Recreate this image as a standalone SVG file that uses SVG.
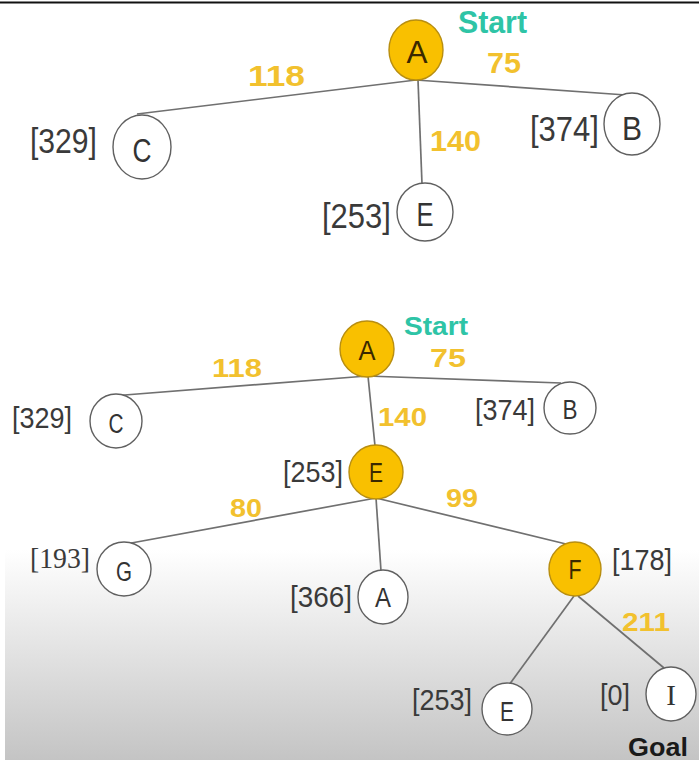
<svg xmlns="http://www.w3.org/2000/svg" width="699" height="764" viewBox="0 0 699 764">
  <defs>
    <linearGradient id="floor" x1="0" y1="0" x2="0" y2="1">
      <stop offset="0" stop-color="#ffffff"/>
      <stop offset="1" stop-color="#c4c4c4"/>
    </linearGradient>
  </defs>
  <style>
    .node { fill: #ffffff; stroke: #606060; stroke-width: 1.4; }
    .hot { fill: #f9c000; stroke: #b88e10; stroke-width: 1.4; }
    .edge { stroke: #707070; stroke-width: 1.7; fill: none; }
    text { font-family: "Liberation Sans", Arial, sans-serif; }
    .lbl { fill: #3a3a3a; }
    .name { fill: #333333; text-anchor: middle; }
    .serif { font-family: "Liberation Serif", "Times New Roman", serif; }
    .hotname { fill: #3a2800; }
    .cost { font-weight: bold; fill: #f2c12e; }
    .start { font-weight: bold; fill: #2ec4a6; }
    .goal { font-weight: bold; fill: #1a1a1a; }
  </style>

  <!-- page background -->
  <rect x="0" y="0" width="699" height="764" fill="#ffffff"/>
  <rect x="5" y="550" width="694" height="210" fill="url(#floor)"/>
  <line x1="0" y1="2.5" x2="699" y2="2.5" stroke="#111111" stroke-width="2"/>

  <!-- ===== first expansion ===== -->
  <g id="edges-top">
    <line class="edge" x1="416" y1="80" x2="137" y2="114"/>
    <line class="edge" x1="416" y1="80" x2="626" y2="95"/>
    <line class="edge" x1="418" y1="80" x2="422" y2="184"/>
  </g>
  <g id="top-A">
    <ellipse class="hot" cx="416" cy="50" rx="27" ry="30"/>
    <text class="name hotname" x="417" y="63" font-size="32" textLength="21" lengthAdjust="spacingAndGlyphs">A</text>
    <text class="start" x="458" y="33" font-size="31" textLength="69" lengthAdjust="spacingAndGlyphs">Start</text>
  </g>
  <g id="top-C">
    <ellipse class="node" cx="142" cy="147" rx="29" ry="32"/>
    <text class="name" x="142" y="162" font-size="33" textLength="19" lengthAdjust="spacingAndGlyphs">C</text>
    <text class="lbl" x="30" y="153" font-size="35" textLength="67" lengthAdjust="spacingAndGlyphs">[329]</text>
  </g>
  <g id="top-E">
    <ellipse class="node" cx="425" cy="212" rx="28" ry="29"/>
    <text class="name" x="425" y="226" font-size="33" textLength="17" lengthAdjust="spacingAndGlyphs">E</text>
    <text class="lbl" x="322" y="228" font-size="35" textLength="69" lengthAdjust="spacingAndGlyphs">[253]</text>
  </g>
  <g id="top-B">
    <ellipse class="node" cx="632" cy="124" rx="28" ry="31"/>
    <text class="name" x="632" y="140" font-size="33" textLength="20" lengthAdjust="spacingAndGlyphs">B</text>
    <text class="lbl" x="530" y="141" font-size="35" textLength="69" lengthAdjust="spacingAndGlyphs">[374]</text>
  </g>
  <g id="top-costs">
    <text class="cost" x="248" y="86" font-size="30" textLength="57" lengthAdjust="spacingAndGlyphs">118</text>
    <text class="cost" x="487" y="73" font-size="30" textLength="34" lengthAdjust="spacingAndGlyphs">75</text>
    <text class="cost" x="430" y="151" font-size="30" textLength="51" lengthAdjust="spacingAndGlyphs">140</text>
  </g>

  <!-- ===== full search tree ===== -->
  <g id="edges-bottom">
    <line class="edge" x1="367" y1="376" x2="112" y2="396"/>
    <line class="edge" x1="367" y1="376" x2="561" y2="383"/>
    <line class="edge" x1="368" y1="376" x2="375" y2="446"/>
    <line class="edge" x1="376" y1="498" x2="115" y2="546"/>
    <line class="edge" x1="376" y1="498" x2="381" y2="571"/>
    <line class="edge" x1="376" y1="498" x2="566" y2="544"/>
    <line class="edge" x1="574" y1="596" x2="509" y2="685"/>
    <line class="edge" x1="578" y1="596" x2="664" y2="668"/>
  </g>
  <g id="A">
    <ellipse class="hot" cx="367" cy="349" rx="27" ry="28"/>
    <text class="name hotname" x="367" y="360" font-size="27" textLength="17" lengthAdjust="spacingAndGlyphs">A</text>
    <text class="start" x="404" y="335" font-size="25" textLength="64" lengthAdjust="spacingAndGlyphs">Start</text>
  </g>
  <g id="C">
    <ellipse class="node" cx="116" cy="421" rx="26" ry="27"/>
    <text class="name" x="116" y="433" font-size="27" textLength="15" lengthAdjust="spacingAndGlyphs">C</text>
    <text class="lbl" x="12" y="428" font-size="29" textLength="60" lengthAdjust="spacingAndGlyphs">[329]</text>
  </g>
  <g id="B">
    <ellipse class="node" cx="570" cy="408" rx="26" ry="26"/>
    <text class="name" x="570" y="419" font-size="27" textLength="15" lengthAdjust="spacingAndGlyphs">B</text>
    <text class="lbl" x="475" y="420" font-size="29" textLength="60" lengthAdjust="spacingAndGlyphs">[374]</text>
  </g>
  <g id="E">
    <ellipse class="hot" cx="376" cy="472" rx="27" ry="27"/>
    <text class="name hotname" x="376" y="482" font-size="27" textLength="14" lengthAdjust="spacingAndGlyphs">E</text>
    <text class="lbl" x="283" y="482" font-size="29" textLength="60" lengthAdjust="spacingAndGlyphs">[253]</text>
  </g>
  <g id="G">
    <ellipse class="node" cx="124" cy="569" rx="27" ry="27"/>
    <text class="name" x="124" y="581" font-size="27" textLength="16" lengthAdjust="spacingAndGlyphs">G</text>
    <text class="lbl serif" x="30" y="568" font-size="29" textLength="60" lengthAdjust="spacingAndGlyphs">[193]</text>
  </g>
  <g id="A2">
    <ellipse class="node" cx="383" cy="597" rx="25" ry="27"/>
    <text class="name" x="383" y="607" font-size="27" textLength="16" lengthAdjust="spacingAndGlyphs">A</text>
    <text class="lbl" x="290" y="607" font-size="29" textLength="62" lengthAdjust="spacingAndGlyphs">[366]</text>
  </g>
  <g id="F">
    <ellipse class="hot" cx="575" cy="569" rx="26" ry="27"/>
    <text class="name hotname" x="575" y="579" font-size="27" textLength="13" lengthAdjust="spacingAndGlyphs">F</text>
    <text class="lbl" x="612" y="570" font-size="29" textLength="60" lengthAdjust="spacingAndGlyphs">[178]</text>
  </g>
  <g id="E2">
    <ellipse class="node" cx="507" cy="709" rx="25" ry="26"/>
    <text class="name" x="507" y="721" font-size="27" textLength="14" lengthAdjust="spacingAndGlyphs">E</text>
    <text class="lbl" x="412" y="710" font-size="29" textLength="60" lengthAdjust="spacingAndGlyphs">[253]</text>
  </g>
  <g id="I">
    <ellipse class="node" cx="671" cy="694" rx="25" ry="27"/>
    <text class="name serif" x="671" y="705" font-size="29">I</text>
    <text class="lbl" x="600" y="705" font-size="29" textLength="30" lengthAdjust="spacingAndGlyphs">[0]</text>
    <text class="goal" x="628" y="756" font-size="25" textLength="60" lengthAdjust="spacingAndGlyphs">Goal</text>
  </g>
  <g id="bottom-costs">
    <text class="cost" x="212" y="377" font-size="26" textLength="50" lengthAdjust="spacingAndGlyphs">118</text>
    <text class="cost" x="430" y="367" font-size="26" textLength="36" lengthAdjust="spacingAndGlyphs">75</text>
    <text class="cost" x="378" y="426" font-size="26" textLength="49" lengthAdjust="spacingAndGlyphs">140</text>
    <text class="cost" x="230" y="517" font-size="26" textLength="32" lengthAdjust="spacingAndGlyphs">80</text>
    <text class="cost" x="446" y="507" font-size="26" textLength="32" lengthAdjust="spacingAndGlyphs">99</text>
    <text class="cost" x="622" y="631" font-size="26" textLength="48" lengthAdjust="spacingAndGlyphs">211</text>
  </g>
</svg>
